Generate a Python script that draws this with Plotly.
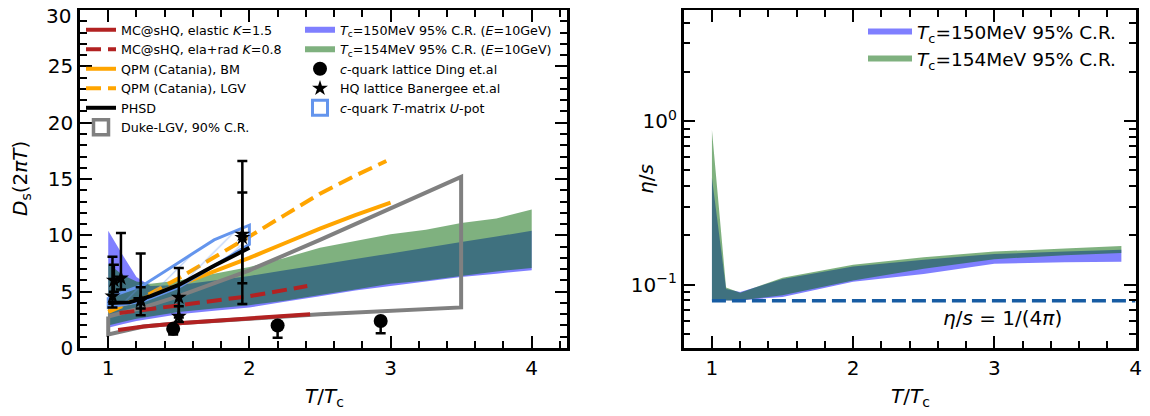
import plotly.graph_objects as go

# ---------------- Left panel data: D_s(2piT) vs T/Tc ----------------
T_band = [1.0, 1.1, 1.2, 1.3, 1.5, 1.75, 2.0, 2.25, 2.5, 2.75, 3.0, 3.25, 3.5, 3.75, 4.0]
ds150_hi = [10.4, 8.3, 6.3, 5.5, 5.6, 6.0, 6.4, 6.9, 7.4, 7.9, 8.4, 8.9, 9.4, 9.9, 10.4]
ds150_lo = [1.8, 2.1, 2.4, 2.6, 3.0, 3.3, 3.6, 4.1, 4.6, 5.1, 5.5, 5.9, 6.3, 6.6, 6.9]
ds154_hi = [7.5, 6.5, 5.9, 5.7, 6.0, 6.6, 7.2, 8.0, 8.9, 9.5, 10.1, 10.5, 11.1, 11.5, 12.3]
ds154_lo = [2.0, 2.3, 2.6, 2.8, 3.2, 3.5, 3.8, 4.2, 4.7, 5.2, 5.7, 6.0, 6.4, 6.8, 7.1]

T_msh_el = [1.07, 1.25, 1.5, 1.75, 2.0, 2.25, 2.43]
D_msh_el = [1.6, 1.9, 2.2, 2.4, 2.6, 2.8, 3.0]
T_msh_rad = [1.08, 1.25, 1.5, 1.75, 2.0, 2.2, 2.41]
D_msh_rad = [3.1, 3.4, 3.8, 4.2, 4.6, 5.0, 5.5]
T_qpm_bm = [1.0, 1.25, 1.5, 1.75, 2.0, 2.25, 2.5, 2.75, 3.0]
D_qpm_bm = [3.5, 4.4, 5.6, 6.8, 8.0, 9.3, 10.6, 11.8, 12.9]
T_qpm_lgv = [1.0, 1.25, 1.5, 1.75, 2.0, 2.25, 2.5, 2.75, 2.97]
D_qpm_lgv = [3.2, 4.5, 6.2, 8.0, 9.9, 11.8, 13.7, 15.3, 16.6]
T_phsd = [1.0, 1.15, 1.3, 1.5, 1.75, 2.0]
D_phsd = [4.0, 4.05, 4.6, 5.6, 7.3, 8.9]

T_duke = [1.0, 1.25, 1.5, 2.0, 2.5, 3.0, 3.5]
D_duke_hi = [2.8, 3.6, 4.6, 6.9, 9.6, 12.4, 15.2]
D_duke_lo = [1.2, 1.9, 2.2, 2.6, 3.0, 3.3, 3.6]

T_tmat = [1.0, 1.25, 1.5, 1.75, 2.0]
D_tmat_hi = [4.5, 5.6, 7.6, 9.6, 10.9]
D_tmat_lo = [3.6, 4.2, 5.4, 7.3, 9.2]

T_ding = [1.46, 2.2, 2.93]
D_ding = [1.7, 2.0, 2.4]
D_ding_lo = [1.2, 0.9, 1.3]
D_ding_hi = [2.0, 2.2, 2.6]

T_ban = [1.03, 1.04, 1.09, 1.23, 1.23, 1.5, 1.5, 1.95, 1.95]
D_ban = [4.6, 6.0, 6.2, 4.2, 4.3, 4.5, 2.8, 9.8, 10.1]
D_ban_lo = [3.6, 5.0, 5.2, 2.9, 3.5, 2.7, 2.3, 5.75, 3.9]
D_ban_hi = [8.1, 7.4, 10.2, 8.4, 5.4, 7.1, 3.7, 13.8, 16.6]

y_ticks = [0, 5, 10, 15, 20, 25, 30]
x_ticks = [1, 2, 3, 4]

# ---------------- Right panel data: eta/s vs T/Tc ----------------
T_eta = [1.0, 1.1, 1.2, 1.5, 2.0, 2.5, 3.0, 3.5, 3.9]
eta150_hi = [0.45, 0.094, 0.090, 0.108, 0.129, 0.142, 0.154, 0.159, 0.163]
eta150_lo = [0.080, 0.080, 0.080, 0.084, 0.104, 0.116, 0.134, 0.137, 0.138]
eta154_hi = [0.88, 0.096, 0.089, 0.110, 0.132, 0.147, 0.159, 0.166, 0.172]
eta154_lo = [0.080, 0.080, 0.080, 0.086, 0.106, 0.125, 0.143, 0.151, 0.156]
kss_T = [1.0, 4.0]
kss_value = 1.0 / (4.0 * 3.141592653589793)

FONT = "DejaVu Sans"
BLUE_FILL = "rgba(0,0,255,0.5)"
GREEN_FILL = "rgba(0,100,0,0.5)"
FIREBRICK = "#b22222"
ORANGE = "#ffa500"
GRAY = "#808080"
CORNFLOWER = "#6495ed"

W, H = 1150, 416
OFF = 8  # page body margin in the browser


def px(x):
    return (x - OFF) / W


def py(y):
    return 1 - (y - OFF) / H


def band(x, lo, hi):
    return list(x) + list(x)[::-1], list(hi) + list(lo)[::-1]


fig = go.Figure()

# bands left
bx, by = band(T_band, ds150_lo, ds150_hi)
fig.add_trace(go.Scatter(x=bx, y=by, fill="toself", fillcolor=BLUE_FILL, mode="none",
                         name="<i>T</i><sub>c</sub>=150MeV 95% C.R. (<i>E</i>=10GeV)",
                         legend="legend2", legendrank=1, xaxis="x", yaxis="y"))
bx, by = band(T_band, ds154_lo, ds154_hi)
fig.add_trace(go.Scatter(x=bx, y=by, fill="toself", fillcolor=GREEN_FILL, mode="none",
                         name="<i>T</i><sub>c</sub>=154MeV 95% C.R. (<i>E</i>=10GeV)",
                         legend="legend2", legendrank=2, xaxis="x", yaxis="y"))

# Duke polygon
dx, dy = band(T_duke, D_duke_lo, D_duke_hi)
dx = dx + [dx[0]]
dy = dy + [dy[0]]
fig.add_trace(go.Scatter(x=dx, y=dy, mode="lines", line=dict(color=GRAY, width=4),
                         showlegend=False, xaxis="x", yaxis="y"))
fig.add_trace(go.Scatter(x=[None], y=[None], mode="markers",
                         marker=dict(symbol="square-open", size=15, color=GRAY, line=dict(width=3.5)),
                         name="Duke-LGV, 90% C.R.", legend="legend", legendrank=6))

fig.add_trace(go.Scatter(x=T_msh_el, y=D_msh_el, mode="lines", line=dict(color=FIREBRICK, width=4),
                         name="MC@sHQ, elastic <i>K</i>=1.5", legend="legend", legendrank=1))
fig.add_trace(go.Scatter(x=T_msh_rad, y=D_msh_rad, mode="lines",
                         line=dict(color=FIREBRICK, width=4, dash="15px,7px"),
                         name="MC@sHQ, ela+rad <i>K</i>=0.8", legend="legend", legendrank=2))
fig.add_trace(go.Scatter(x=T_qpm_bm, y=D_qpm_bm, mode="lines", line=dict(color=ORANGE, width=4),
                         name="QPM (Catania), BM", legend="legend", legendrank=3))
fig.add_trace(go.Scatter(x=T_qpm_lgv, y=D_qpm_lgv, mode="lines",
                         line=dict(color=ORANGE, width=4, dash="15px,7px"),
                         name="QPM (Catania), LGV", legend="legend", legendrank=4))

# T-matrix band
tx, ty = band(T_tmat, D_tmat_lo, D_tmat_hi)
tx = tx + [tx[0]]
ty = ty + [ty[0]]
fig.add_trace(go.Scatter(x=tx, y=ty, mode="lines", fill="toself", fillcolor="rgba(255,255,255,0)",
                         fillpattern=dict(shape="/", fgcolor=CORNFLOWER, bgcolor="rgba(255,255,255,0)",
                                          size=14, solidity=0.08),
                         line=dict(color=CORNFLOWER, width=3), showlegend=False))
fig.add_trace(go.Scatter(x=[None], y=[None], mode="markers",
                         marker=dict(symbol="square-open", size=15, color=CORNFLOWER, line=dict(width=3)),
                         name="<i>c</i>-quark <i>T</i>-matrix <i>U</i>-pot", legend="legend2", legendrank=5))

fig.add_trace(go.Scatter(x=T_phsd, y=D_phsd, mode="lines", line=dict(color="black", width=4),
                         name="PHSD", legend="legend", legendrank=5))

fig.add_trace(go.Scatter(
    x=T_ding, y=D_ding, mode="markers",
    marker=dict(symbol="circle", size=14, color="black"),
    error_y=dict(type="data", symmetric=False,
                 array=[h - d for h, d in zip(D_ding_hi, D_ding)],
                 arrayminus=[d - l for d, l in zip(D_ding, D_ding_lo)],
                 color="black", thickness=2.5, width=5),
    name="<i>c</i>-quark lattice Ding et.al", legend="legend2", legendrank=3))
fig.add_trace(go.Scatter(
    x=T_ban, y=D_ban, mode="markers",
    marker=dict(symbol="star", size=12, color="black"),
    error_y=dict(type="data", symmetric=False,
                 array=[h - d for h, d in zip(D_ban_hi, D_ban)],
                 arrayminus=[d - l for d, l in zip(D_ban, D_ban_lo)],
                 color="black", thickness=2.5, width=5),
    name="HQ lattice Banergee et.al", legend="legend2", legendrank=4))

# ---------------- Right panel ----------------
ex, ey = band(T_eta, eta150_lo, eta150_hi)
fig.add_trace(go.Scatter(x=ex, y=ey, fill="toself", fillcolor=BLUE_FILL, mode="none",
                         name="<i>T</i><sub>c</sub>=150MeV 95% C.R.", legend="legend3", legendrank=1,
                         legendgroup="a", xaxis="x2", yaxis="y2"))
ex, ey = band(T_eta, eta154_lo, eta154_hi)
fig.add_trace(go.Scatter(x=ex, y=ey, fill="toself", fillcolor=GREEN_FILL, mode="none",
                         name="<i>T</i><sub>c</sub>=154MeV 95% C.R.", legend="legend3", legendrank=2,
                         legendgroup="b", xaxis="x2", yaxis="y2"))
fig.add_trace(go.Scatter(x=kss_T, y=[kss_value] * len(kss_T), mode="lines",
                         line=dict(color="#175ca3", width=3.5, dash="14px,6px"),
                         showlegend=False, xaxis="x2", yaxis="y2"))

axis_common = dict(showline=True, linecolor="black", linewidth=2.5, mirror="allticks",
                   ticks="inside", ticklen=12, tickwidth=2, tickcolor="black",
                   showgrid=False, zeroline=False, automargin=False,
                   ticklabeloverflow="allow",
                   tickfont=dict(family=FONT, size=20, color="black"))

Y0 = py(348)
Y1 = py(10)

# the top label (30) would be clipped by the page edge; it is drawn as an annotation slightly lower
y_ticktext = [str(v) for v in y_ticks[:-1]] + [""]

fig.update_layout(
    width=W, height=H,
    margin=dict(l=0, r=0, t=0, b=0, autoexpand=False),
    paper_bgcolor="white", plot_bgcolor="white",
    font=dict(family=FONT, color="black"),
    xaxis=dict(domain=[px(80), px(567)], range=[0.8, 4.25], anchor="y",
               tickvals=x_ticks,
               minor=dict(ticks="inside", ticklen=7, tickwidth=1.5, tickcolor="black",
                          tick0=0.8, dtick=0.2, showgrid=False),
               **axis_common),
    yaxis=dict(domain=[Y0, Y1], range=[-0.001, 30.01], anchor="x",
               tickvals=y_ticks, ticktext=y_ticktext,
               minor=dict(ticks="inside", ticklen=7, tickwidth=1.5, tickcolor="black",
                          dtick=1, showgrid=False),
               **axis_common),
    xaxis2=dict(domain=[px(683.7), px(1135.5)], range=[0.8, 4.0], anchor="y2",
                tickvals=x_ticks,
                minor=dict(ticks="inside", ticklen=7, tickwidth=1.5, tickcolor="black",
                           tick0=0.8, dtick=0.2, showgrid=False),
                **axis_common),
    yaxis2=dict(domain=[Y0, Y1], type="log", range=[-1.388, 0.679], anchor="x2",
                tickvals=[0.1, 1], ticktext=["10<sup>−1</sup>", "10<sup>0</sup>"],
                minor=dict(ticks="inside", ticklen=7, tickwidth=1.5, tickcolor="black",
                           tickmode="array",
                           tickvals=[0.05, 0.06, 0.07, 0.08, 0.09, 0.2, 0.3, 0.4, 0.5, 0.6,
                                     0.7, 0.8, 0.9, 2, 3, 4],
                           showgrid=False),
                **axis_common),
    legend=dict(x=px(81), y=py(15), xanchor="left", yanchor="top",
                font=dict(family=FONT, size=12.7, color="black"), bgcolor="rgba(0,0,0,0)",
                itemwidth=30, tracegroupgap=0, traceorder="normal"),
    legend2=dict(x=px(300), y=py(15), xanchor="left", yanchor="top",
                 font=dict(family=FONT, size=12.7, color="black"), bgcolor="rgba(0,0,0,0)",
                 itemwidth=30, tracegroupgap=0, traceorder="normal"),
    legend3=dict(x=px(863), y=py(13), xanchor="left", yanchor="top",
                 font=dict(family=FONT, size=18.5, color="black"), bgcolor="rgba(0,0,0,0)",
                 itemwidth=44, tracegroupgap=2, traceorder="normal"),
    annotations=[
        dict(text=str(y_ticks[-1]), xref="paper", yref="paper",
             x=px(73), y=py(16), showarrow=False, xanchor="right", yanchor="middle",
             font=dict(family=FONT, size=20, color="black")),
        dict(text="<i>D</i><sub>s</sub>(2<i>πT</i>)", xref="paper", yref="paper",
             x=px(21), y=py(179), textangle=-90, showarrow=False,
             xanchor="center", yanchor="middle",
             font=dict(family=FONT, size=20, color="black")),
        dict(text="<i>T</i>/<i>T</i><sub>c</sub>", xref="paper", yref="paper",
             x=px(324), y=py(397), showarrow=False,
             xanchor="center", yanchor="middle",
             font=dict(family=FONT, size=20, color="black")),
        dict(text="<i>η</i>/<i>s</i>", xref="paper", yref="paper",
             x=px(646), y=py(179), textangle=-90, showarrow=False,
             xanchor="center", yanchor="middle",
             font=dict(family=FONT, size=20, color="black")),
        dict(text="<i>T</i>/<i>T</i><sub>c</sub>", xref="paper", yref="paper",
             x=px(910), y=py(397), showarrow=False,
             xanchor="center", yanchor="middle",
             font=dict(family=FONT, size=20, color="black")),
        dict(text="<i>η</i>/<i>s</i> = 1/(4<i>π</i>)", xref="x2", yref="y2",
             x=3.06, y=-1.205, showarrow=False,
             xanchor="center", yanchor="middle",
             font=dict(family=FONT, size=20, color="black")),
    ],
)

fig.write_html("out.html")
